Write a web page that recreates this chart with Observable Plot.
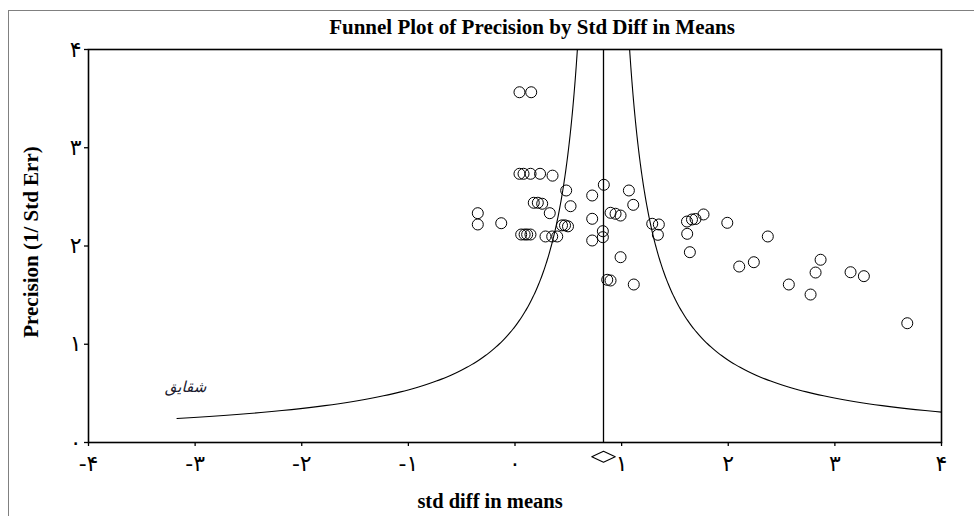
<!DOCTYPE html>
<html>
<head>
<meta charset="utf-8">
<script src="https://cdn.jsdelivr.net/npm/d3@7"></script>
<script src="https://cdn.jsdelivr.net/npm/@observablehq/plot@0.6"></script>
<style>
  body { margin: 0; background: #fff; }
  #wrap { position: relative; width: 974px; height: 516px; overflow: hidden; background: #fff; }
  #border { position: absolute; left: 8px; top: 10px; width: 1000px; height: 600px; border-left: 1.5px solid #808080; border-top: 1.5px solid #808080; }
  #chart { position: absolute; left: 0; top: 0; }
  #chart g[aria-label$="tick label"] { font-size: 22px; font-family: "DejaVu Sans", sans-serif; }
  #title { position: absolute; left: 0; width: 1064px; top: 15px; text-align: center; font: bold 21px "Liberation Serif", serif; color: #000; }
  #xlabel { position: absolute; left: 0; width: 980px; top: 490px; text-align: center; font: bold 20.5px "Liberation Serif", serif; color: #000; }
  #ylabel { position: absolute; left: 31px; top: 242px; transform: translate(-50%, -50%) rotate(-90deg); white-space: nowrap; font: bold 21px "Liberation Serif", serif; color: #000; }
</style>
</head>
<body>
<div id="wrap">
  <div id="border"></div>
  <div id="chart"></div>
  <div id="title">Funnel Plot of Precision by Std Diff in Means</div>
  <div id="ylabel">Precision (1/ Std Err)</div>
  <div id="xlabel">std diff in means</div>
</div>
<script>
// ---- data ----
const studyEffect = [
  0.042, 0.152,
  0.042, 0.080, 0.146, 0.235, 0.352,
  0.480, 0.724, 0.833,
  0.176, 0.214, 0.255, 0.521, 0.326,
  -0.349, -0.349, -0.129, 0.724,
  0.441, 0.469, 0.497,
  0.058, 0.090, 0.114, 0.145,
  0.286, 0.349, 0.396, 0.724, 0.824, 0.824,
  0.990, 1.068, 1.109, 0.896, 0.943, 0.990,
  0.865, 0.896, 1.114,
  1.287, 1.349, 1.340,
  1.613, 1.660, 1.693, 1.768, 1.615, 1.640,
  1.991, 2.371, 2.103, 2.240, 2.568,
  2.866, 2.819, 2.772, 3.147, 3.272, 3.679
];
const studyPrecision = [
  3.565, 3.565,
  2.735, 2.735, 2.735, 2.735, 2.716,
  2.565, 2.514, 2.623,
  2.44, 2.44, 2.43, 2.405, 2.334,
  2.334, 2.219, 2.232, 2.277,
  2.21, 2.21, 2.20,
  2.117, 2.117, 2.117, 2.117,
  2.097, 2.097, 2.097, 2.056, 2.151, 2.09,
  1.886, 2.565, 2.419, 2.338, 2.328, 2.310,
  1.656, 1.649, 1.608,
  2.226, 2.219, 2.114,
  2.249, 2.270, 2.275, 2.321, 2.124, 1.937,
  2.236, 2.097, 1.791, 1.835, 1.608,
  1.860, 1.730, 1.506, 1.733, 1.693, 1.214
];
const meanEffect = 0.83;      // combined effect (vertical line)
const ciLower = 0.72;         // diamond left
const ciUpper = 0.94;         // diamond right
const funnelK = 0.98;         // funnel half-width = funnelK / precision
const funnelMinPrecision = 0.245;
const xTicks = [-4, -3, -2, -1, 0, 1, 2, 3, 4];
const xTickLabels = ["-۴", "-۳", "-۲", "-۱", "۰", "۱", "۲", "۳", "۴"];
const yTicks = [0, 1, 2, 3, 4];
const yTickLabels = ["۰", "۱", "۲", "۳", "۴"];
const signature = "شقایق";

// ---- derived tables ----
const studies = studyEffect.map((x, i) => ({x, p: studyPrecision[i]}));
const precGrid = d3.range(funnelMinPrecision, 4.0001, 0.01);
const leftCurve = precGrid.map(p => ({x: meanEffect - funnelK / p, p}));
const pEdge = funnelK / (4 - meanEffect);
const rightCurve = [pEdge, ...precGrid.filter(p => p > pEdge)].map(p => ({x: meanEffect + funnelK / p, p}));
const diamond = [
  {x: ciLower, p: -0.145},
  {x: meanEffect, p: -0.09},
  {x: ciUpper, p: -0.145},
  {x: meanEffect, p: -0.2},
  {x: ciLower, p: -0.145}
];

const chart = Plot.plot({
  width: 974,
  height: 516,
  marginLeft: 88,
  marginRight: 33,
  marginTop: 49,
  marginBottom: 74,
  x: {domain: [-4, 4]},
  y: {domain: [0, 4]},
  style: {background: "transparent", fontFamily: "DejaVu Sans, sans-serif", color: "black"},
  marks: [
    Plot.axisX({ticks: xTicks, tickFormat: d => xTickLabels[xTicks.indexOf(d)], tickSize: 4, tickPadding: 9, fontSize: 22, label: null, stroke: "black", strokeWidth: 1.3}),
    Plot.axisY({ticks: yTicks, tickFormat: d => yTickLabels[yTicks.indexOf(d)], tickSize: 4, tickPadding: 3, fontSize: 22, label: null, stroke: "black", strokeWidth: 1.3}),
    Plot.ruleX([meanEffect], {stroke: "black", strokeWidth: 1.3}),
    Plot.line(leftCurve, {x: "x", y: "p", stroke: "black", strokeWidth: 1.1}),
    Plot.line(rightCurve, {x: "x", y: "p", stroke: "black", strokeWidth: 1.1}),
    Plot.dot(studies, {x: "x", y: "p", r: 5.5, stroke: "black", strokeWidth: 1, fill: "none"}),
    Plot.line(diamond, {x: "x", y: "p", stroke: "black", strokeWidth: 1.1}),
    Plot.text([signature], {x: -3.09, y: 0.56, text: d => d, fontSize: 15, fontStyle: "italic", fill: "#1a1a2e"}),
    Plot.frame({stroke: "black", strokeWidth: 1.6})
  ]
});
document.getElementById("chart").appendChild(chart);
</script>
</body>
</html>
